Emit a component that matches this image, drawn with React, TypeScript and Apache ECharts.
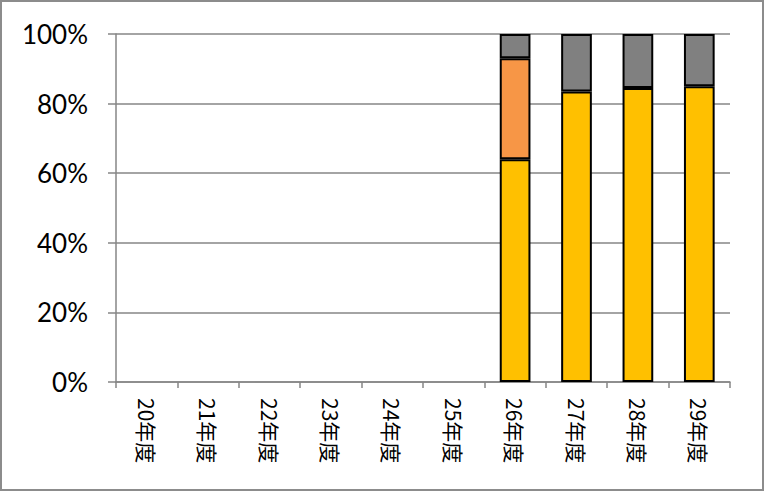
import React, { useEffect, useRef } from "react";
import * as echarts from "echarts";

const categories = ["20年度", "21年度", "22年度", "23年度", "24年度", "25年度", "26年度", "27年度", "28年度", "29年度"];
const yellowValues = [null, null, null, null, null, null, 64, 83.5, 84.5, 85];
const orangeValues = [null, null, null, null, null, null, 29, null, null, null];
const grayValues = [null, null, null, null, null, null, 7, 16.5, 15.5, 15];
const yTicks = [0, 20, 40, 60, 80, 100];

export default function App() {
  const ref = useRef<HTMLDivElement>(null);
  useEffect(() => {
    document.body.style.margin = "0";
    const chart = echarts.init(ref.current!, null, { renderer: "svg" });
    const barStyle = (color: string) => ({ color, borderColor: "#000", borderWidth: 2 });
    chart.setOption({
      animation: false,
      backgroundColor: "#fff",
      graphic: [
        {
          type: "rect",
          shape: { x: 1, y: 1, width: 762, height: 489 },
          style: { fill: "none", stroke: "#8c8c8c", lineWidth: 2 },
          silent: true,
        },
      ],
      grid: { left: 116, right: 35, top: 34, bottom: 110 },
      xAxis: {
        type: "category",
        data: categories,
        axisLine: { lineStyle: { color: "#868686", width: 1.5 } },
        axisTick: { show: true, length: 6, lineStyle: { color: "#868686", width: 1.5 } },
        axisLabel: {
          rotate: -90,
          margin: 16,
          color: "#000",
          fontSize: 21,
          fontFamily: "Noto Sans CJK JP",
          interval: 0,
        },
      },
      yAxis: {
        type: "value",
        min: 0,
        max: 100,
        interval: 20,
        axisLine: { show: true, lineStyle: { color: "#868686", width: 1.5 } },
        axisTick: { show: true, length: 8, lineStyle: { color: "#868686", width: 1.5 } },
        splitLine: { lineStyle: { color: "#868686", width: 1.5 } },
        axisLabel: {
          margin: 28,
          color: "#000",
          fontSize: 26,
          fontFamily: "Lato",
          formatter: (v: number) => (yTicks.includes(v) ? v + "%" : ""),
        },
      },
      series: [
        { name: "A", type: "bar", stack: "s", barWidth: "50%", data: yellowValues, itemStyle: barStyle("#FFC000") },
        { name: "B", type: "bar", stack: "s", barWidth: "50%", data: orangeValues, itemStyle: barStyle("#F79646") },
        { name: "C", type: "bar", stack: "s", barWidth: "50%", data: grayValues, itemStyle: barStyle("#808080") },
      ],
    });
    return () => chart.dispose();
  }, []);
  return <div ref={ref} style={{ width: 765, height: 492 }} />;
}
